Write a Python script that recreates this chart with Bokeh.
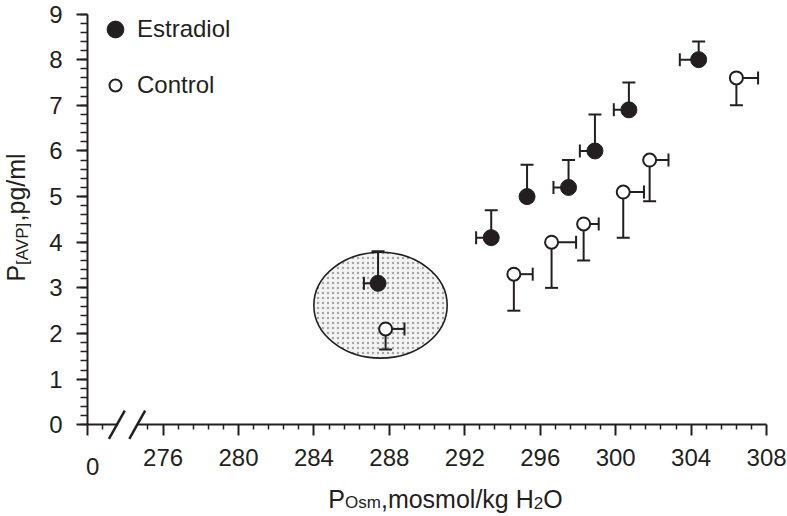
import numpy as np
from bokeh.plotting import figure
from bokeh.models import (Range1d, FixedTicker, SingleIntervalTicker, Label,
                          Legend, LegendItem, Arrow)
from bokeh.embed import file_html
from bokeh.resources import INLINE

# ---------------- data ----------------
estradiol_x = [287.4, 293.4, 295.3, 297.5, 298.9, 300.7, 304.4]
estradiol_y = [3.1, 4.1, 5.0, 5.2, 6.0, 6.9, 8.0]
estradiol_yerr = [0.7, 0.6, 0.7, 0.6, 0.8, 0.6, 0.4]    # drawn upward
estradiol_xerr = [0.75, 0.8, 0.0, 0.8, 0.8, 0.8, 1.0]   # drawn leftward

control_x = [287.8, 294.6, 296.6, 298.3, 300.4, 301.8, 306.4]
control_y = [2.1, 3.3, 4.0, 4.4, 5.1, 5.8, 7.6]
control_yerr = [0.45, 0.8, 1.0, 0.8, 1.0, 0.9, 0.6]     # drawn downward
control_xerr = [1.0, 1.0, 1.3, 0.8, 1.1, 1.0, 1.15]     # drawn rightward

# highlighted region (ellipse)
ellipse_center = (287.53, 2.62)
ellipse_size = (7.07, 2.32)

x_ticks = [272, 276, 280, 284, 288, 292, 296, 300, 304, 308]
x_tick_labels = {272: "", 276: "276", 280: "280", 284: "284", 288: "288",
                 292: "292", 296: "296", 300: "300", 304: "304", 308: "308"}
x_break = [273.55, 274.63]

FONT = "Liberation Sans"
INK = "#231f20"
FS = 24
W_FIG, H_FIG = 787, 516
MID = 0.3465   # baseline offset of a middle-anchored text, in em

p = figure(width=W_FIG, height=H_FIG, output_backend="svg", toolbar_location=None,
           x_range=Range1d(267.38, 309.11), y_range=Range1d(-2.009, 9.296),
           min_border=0)
p.outline_line_color = None
p.grid.visible = False

# axes: drawn at the data origin, limited to the data span
minor_x = [round(float(v), 2) for v in np.arange(272, 308.01, 0.8)
           if min((v - 272) % 4, 4 - (v - 272) % 4) > 1e-6
           and not (x_break[0] - 0.3 < v < x_break[1] + 0.3)]
p.xaxis.ticker = FixedTicker(ticks=x_ticks, minor_ticks=minor_x)
p.xaxis.major_label_overrides = x_tick_labels
p.yaxis.ticker = SingleIntervalTicker(interval=1, num_minor_ticks=5)
p.xaxis.fixed_location = 0
p.yaxis.fixed_location = 272
p.xaxis.bounds = (272, 308)
p.yaxis.bounds = (0, 9)
for ax in (p.xaxis[0], p.yaxis[0]):
    ax.axis_line_color = INK
    ax.axis_line_width = 2
    ax.major_tick_line_color = INK
    ax.major_tick_line_width = 2
    ax.minor_tick_line_color = INK
    ax.minor_tick_line_width = 1.5
    ax.major_tick_in = 0
    ax.minor_tick_in = 0
    ax.major_tick_out = 11
    ax.major_label_text_font = FONT
    ax.major_label_text_font_size = f"{FS}px"
    ax.major_label_text_color = INK
p.xaxis.minor_tick_out = 5
p.yaxis.minor_tick_out = 7
p.xaxis.major_label_standoff = 13
p.yaxis.major_label_standoff = 14

# ellipse
p.ellipse(x=[ellipse_center[0]], y=[ellipse_center[1]], width=[ellipse_size[0]],
          height=[ellipse_size[1]], fill_color="#f4f4f4", hatch_pattern="dot",
          hatch_color="#a6a6a6", hatch_scale=5, hatch_weight=1.5,
          line_color=INK, line_width=1.6)

# error bars (one-sided)
ex = np.array(estradiol_x); ey = np.array(estradiol_y)
cx = np.array(control_x); cy = np.array(control_y)
eyu = ey + np.array(estradiol_yerr)
exl = ex - np.array(estradiol_xerr)
cyl = cy - np.array(control_yerr)
cxr = cx + np.array(control_xerr)
mask_e = np.array(estradiol_xerr) > 0

p.segment(x0=ex, y0=ey, x1=ex, y1=eyu, line_color=INK, line_width=2)
p.segment(x0=ex[mask_e], y0=ey[mask_e], x1=exl[mask_e], y1=ey[mask_e], line_color=INK, line_width=2)
p.segment(x0=cx, y0=cy, x1=cx, y1=cyl, line_color=INK, line_width=2)
p.segment(x0=cx, y0=cy, x1=cxr, y1=cy, line_color=INK, line_width=2)
CAP = 13
p.scatter(x=ex, y=eyu, marker="dash", size=CAP, line_color=INK, line_width=2)
p.scatter(x=exl[mask_e], y=ey[mask_e], marker="dash", angle=np.pi / 2, size=CAP, line_color=INK, line_width=2)
p.scatter(x=cx, y=cyl, marker="dash", size=CAP, line_color=INK, line_width=2)
p.scatter(x=cxr, y=cy, marker="dash", angle=np.pi / 2, size=CAP, line_color=INK, line_width=2)

r_e = p.scatter(x=estradiol_x, y=estradiol_y, marker="circle", size=16,
                fill_color=INK, line_color=INK, line_width=1)
r_c = p.scatter(x=control_x, y=control_y, marker="circle", size=13,
                fill_color="white", line_color=INK, line_width=2)

# legends (positions in px from the bottom-left of the canvas)
leg1 = Legend(items=[LegendItem(label="Estradiol", renderers=[r_e])],
              location=(93, H_FIG - 50), glyph_height=42, glyph_width=44, padding=0,
              margin=0, label_standoff=0, border_line_color=None,
              background_fill_alpha=0, label_text_font=FONT,
              label_text_font_size=f"{FS}px", label_text_color=INK)
leg2 = Legend(items=[LegendItem(label="Control", renderers=[r_c])],
              location=(93, H_FIG - 100), glyph_height=30, glyph_width=44, padding=0,
              margin=0, label_standoff=0, border_line_color=None,
              background_fill_alpha=0, label_text_font=FONT,
              label_text_font_size=f"{FS}px", label_text_color=INK)
p.add_layout(leg1)
p.add_layout(leg2)

# axis break marks
p.add_layout(Arrow(x_start=x_break[0], y_start=0, x_end=x_break[1], y_end=0,
                   line_color="white", line_width=4, start=None, end=None))
for bx in x_break:
    p.add_layout(Arrow(x_start=bx - 0.42, y_start=-0.31, x_end=bx + 0.42, y_end=0.31,
                       line_color=INK, line_width=2.5, start=None, end=None))

# "0" at the origin (sits a little lower than the other tick labels)
p.add_layout(Label(x=272, y=H_FIG - 474 + MID * FS, x_units="data", y_units="screen",
                   text="0", x_offset=5, text_align="center", text_baseline="middle",
                   text_font=FONT, text_font_size=f"{FS}px", text_color=INK))

# ---- axis titles built from pieces (subscripts) ----
W = {"P": 667, "O": 778, "s": 500, "m": 833, ",": 278, "o": 556, "l": 222,
     "/": 278, "k": 500, "g": 556, " ": 278, "H": 722, "2": 556, "[": 278,
     "A": 667, "V": 667, "]": 278, "p": 556}

def tw(t, fs):
    return sum(W[c] for c in t) * fs / 1000.0

def title(pieces, start, base, vertical):
    """base = baseline position (px); pieces placed one after another."""
    pos = start
    for txt, fs, shift in pieces:
        if vertical:
            lab = Label(x=base + shift - MID * fs, y=pos, angle=np.pi / 2)
        else:
            lab = Label(x=pos, y=base - shift + MID * fs)
        lab.update(x_units="screen", y_units="screen", text=txt,
                   text_align="left", text_baseline="middle",
                   text_font=FONT, text_font_size=f"{fs}px",
                   text_color=INK)
        p.add_layout(lab)
        pos += tw(txt, fs)

TF, TS = 25, 17
xpieces = [("P", TF, 0), ("Osm", TS, 1), (",mosmol/kg H", TF, 0), ("2", TS, 1), ("O", TF, 0)]
xlen = sum(tw(t, f) for t, f, _ in xpieces)
title(xpieces, 445 - xlen / 2, H_FIG - 507, False)

ypieces = [("P", TF, 0), ("[AVP]", TS, 4), (",pg/ml", TF, 0)]
ylen = sum(tw(t, f) for t, f, _ in ypieces)
title(ypieces, (H_FIG - 217) - ylen / 2, 24, True)

open("out.html", "w").write(file_html(p, INLINE))
